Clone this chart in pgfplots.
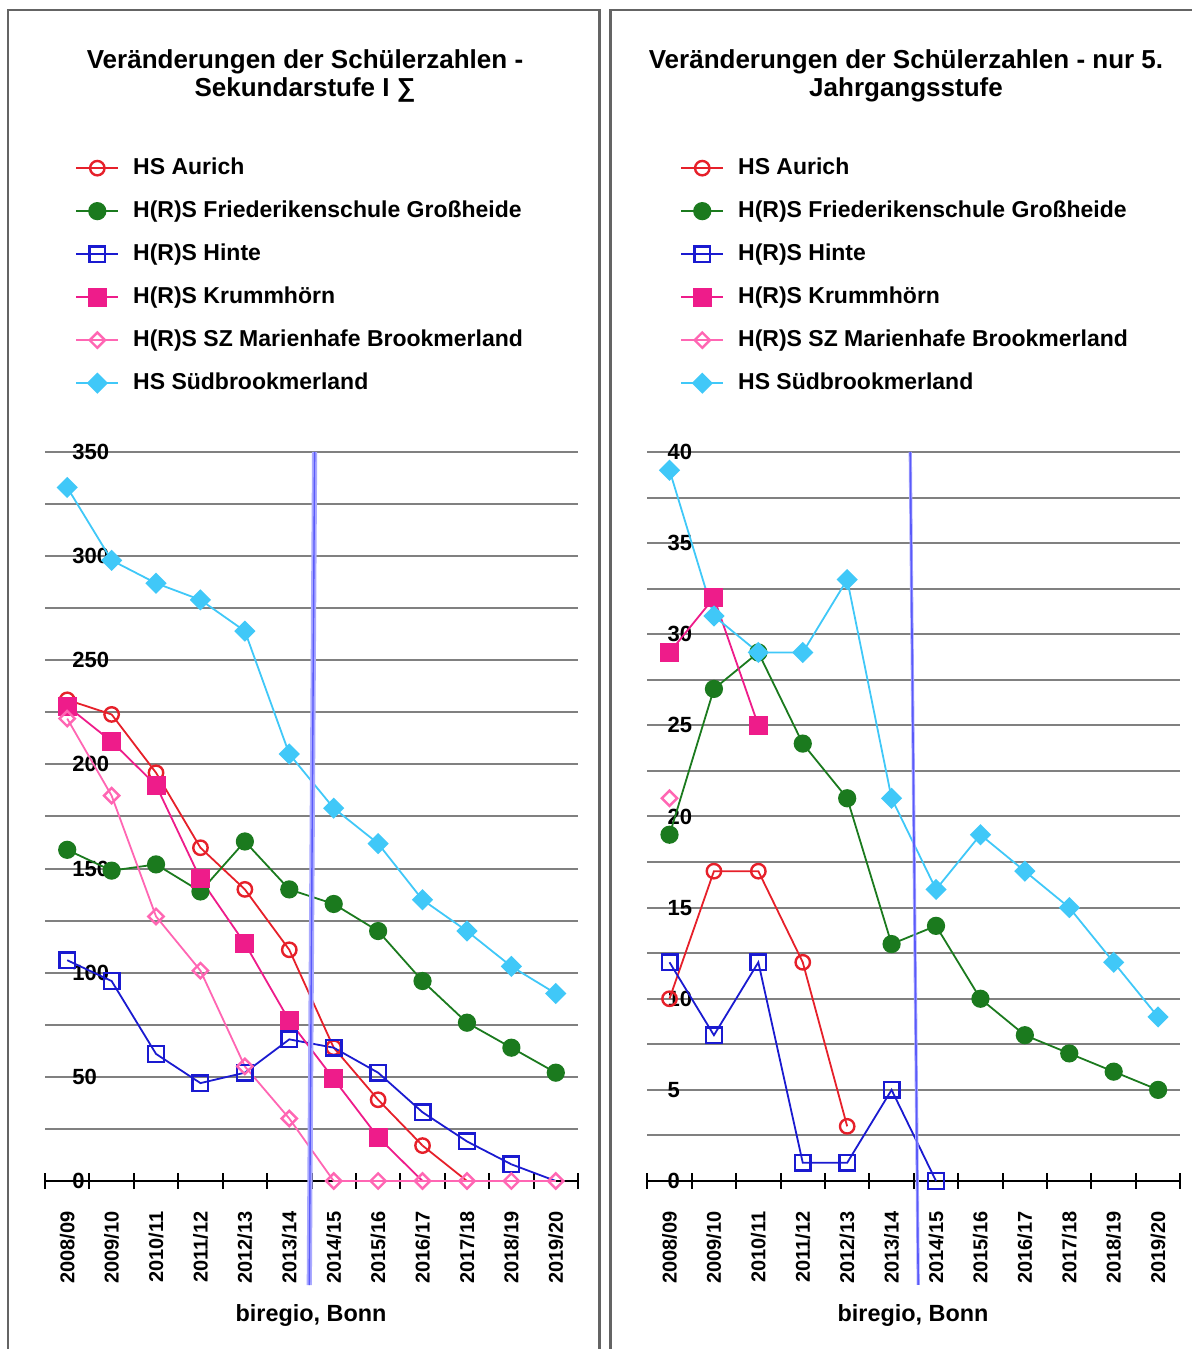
\documentclass[border=0pt]{standalone}
\usepackage{fontspec}
\setmainfont{Liberation Sans}
\usepackage{pgfplots}
\pgfplotsset{compat=1.18}

\definecolor{aurich}{RGB}{230,32,42}
\definecolor{gross}{RGB}{27,122,30}
\definecolor{hinte}{RGB}{26,26,208}
\definecolor{krumm}{RGB}{238,28,138}
\definecolor{marien}{RGB}{255,102,179}
\definecolor{sued}{RGB}{64,200,248}
\definecolor{framec}{RGB}{100,100,100}
\definecolor{gridc}{RGB}{128,128,128}
\definecolor{vlight}{RGB}{170,170,255}
\definecolor{vdark}{RGB}{90,90,250}

\pgfplotsset{
  panel/.style={
    scale only axis,
    width=266.5pt, height=364.5pt,
    anchor=south west,
    clip=false,
    xmin=-0.5, xmax=11.5,
    axis x line=bottom,
    axis y line=left,
    x axis line style={-, black, line width=1pt},
    y axis line style={draw=none},
    xtick={0,...,11},
    xticklabels={2008/09,2009/10,2010/11,2011/12,2012/13,2013/14,2014/15,2015/16,2016/17,2017/18,2018/19,2019/20},
    minor xtick={-0.5,0.5,...,11.5},
    major tick length=0pt,
    minor tick length=8pt,
    tick align=center,
    xtick style={black, line width=1pt},
    ytick style={draw=none},
    xticklabel style={rotate=90, anchor=east, inner sep=0pt, font=\bfseries\fontsize{10}{10}\selectfont},
    xticklabel shift=15pt,
    yticklabel style={anchor=west, inner sep=0pt, font=\bfseries\fontsize{11}{11}\selectfont},
    ymajorgrids,
    grid style={gridc, line width=1pt},
    legend cell align=left,
    legend style={anchor=north west, draw=none, fill=none, inner sep=0pt,
      row sep=10.5pt, column sep=7pt,
      font=\bfseries\fontsize{11.5}{11.5}\selectfont,
      nodes={inner sep=0pt, text height=8.5pt, text depth=2.5pt}},
    legend image code/.code={\draw[mark repeat=2,mark phase=2,#1] plot coordinates {(0pt,0pt) (10.5pt,0pt) (21pt,0pt)};},
  },
  saurich/.style={aurich, line width=0.9pt, mark=o, mark size=3.6pt, mark options={fill=white, line width=1.2pt}},
  sgross/.style={gross, line width=0.9pt, mark=*, mark size=4.1pt},
  shinte/.style={hinte, line width=0.9pt, mark=square, mark size=3.9pt, mark options={fill=white, line width=1.2pt}},
  skrumm/.style={krumm, line width=0.9pt, mark=square*, mark size=4.3pt},
  smarien/.style={marien, line width=0.9pt, mark=square, mark size=2.7pt, mark options={rotate=45, fill=white, line width=1.2pt}},
  ssued/.style={sued, line width=0.9pt, mark=square*, mark size=3.3pt, mark options={rotate=45}},
}

\begin{document}
\begin{tikzpicture}
\useasboundingbox (0,0) rectangle (596pt,674.5pt);
\draw[framec, line width=1.2pt] (4pt,-1pt) -- (4pt,669.5pt) -- (299.7pt,669.5pt) -- (299.7pt,-1pt);
\draw[framec, line width=1.2pt] (305.3pt,-1pt) -- (305.3pt,669.5pt) -- (597pt,669.5pt);

\node[align=center, font=\bfseries\fontsize{13}{14}\selectfont] at (152.5pt,636.5pt)
  {Veränderungen der Schülerzahlen -\\Sekundarstufe I ∑};
\node[align=center, font=\bfseries\fontsize{13}{14}\selectfont] at (453pt,636.5pt)
  {Veränderungen der Schülerzahlen - nur 5.\\Jahrgangsstufe};
\node[font=\bfseries\fontsize{11.7}{12}\selectfont] at (155.5pt,16.5pt) {biregio, Bonn};
\node[font=\bfseries\fontsize{11.7}{12}\selectfont] at (456.5pt,16.5pt) {biregio, Bonn};

% Sekundarstufe I gesamt
\begin{axis}[panel,
  at={(22.5pt,84pt)},
  ymin=0, ymax=350,
  ytick={0,25,...,350},
  yticklabels={0,,50,,100,,150,,200,,250,,300,,350},
  yticklabel shift=-13.5pt,
  legend style={at={(axis description cs:0.0563,1.405)}},
]
\addplot[saurich] coordinates {(0,231) (1,224) (2,196) (3,160) (4,140) (5,111) (6,64) (7,39) (8,17)};
\addplot[aurich, line width=0.9pt, forget plot] coordinates {(8,17) (9,0) (10,0) (11,0)};
\addplot[sgross] coordinates {(0,159) (1,149) (2,152) (3,139) (4,163) (5,140) (6,133) (7,120) (8,96) (9,76) (10,64) (11,52)};
\addplot[shinte] coordinates {(0,106) (1,96) (2,61) (3,47) (4,52) (5,68) (6,64) (7,52) (8,33) (9,19) (10,8)};
\addplot[hinte, line width=0.9pt, forget plot] coordinates {(10,8) (11,0)};
\addplot[skrumm] coordinates {(0,228) (1,211) (2,190) (3,145) (4,114) (5,77) (6,49) (7,21)};
\addplot[krumm, line width=0.9pt, forget plot] coordinates {(7,21) (8,0)};
\addplot[smarien] coordinates {(0,222) (1,185) (2,127) (3,101) (4,55) (5,30) (6,0) (7,0) (8,0) (9,0) (10,0) (11,0)};
\addplot[ssued] coordinates {(0,333) (1,298) (2,287) (3,279) (4,264) (5,205) (6,179) (7,162) (8,135) (9,120) (10,103) (11,90)};
\legend{HS Aurich, H(R)S Friederikenschule Großheide, H(R)S Hinte, H(R)S Krummhörn, H(R)S SZ Marienhafe Brookmerland, HS Südbrookmerland}
\draw[vlight, line width=2.6pt] (axis cs:5.57,350) -- (axis cs:5.45,-50);
\draw[vdark, line width=0.7pt] (axis cs:5.57,350) -- (axis cs:5.45,-50);
\end{axis}

% nur 5. Jahrgangsstufe
\begin{axis}[panel,
  at={(323.65pt,84pt)},
  ymin=0, ymax=40,
  ytick={0,2.5,...,40},
  yticklabels={0,,5,,10,,15,,20,,25,,30,,35,,40},
  yticklabel shift=-10pt,
  legend style={at={(axis description cs:0.0613,1.405)}},
]
\addplot[saurich] coordinates {(0,10) (1,17) (2,17) (3,12) (4,3)};
\addplot[sgross] coordinates {(0,19) (1,27) (2,29) (3,24) (4,21) (5,13) (6,14) (7,10) (8,8) (9,7) (10,6) (11,5)};
\addplot[shinte] coordinates {(0,12) (1,8) (2,12) (3,1) (4,1) (5,5) (6,0)};
\addplot[skrumm] coordinates {(0,29) (1,32) (2,25)};
\addplot[smarien] coordinates {(0,21)};
\addplot[ssued] coordinates {(0,39) (1,31) (2,29) (3,29) (4,33) (5,21) (6,16) (7,19) (8,17) (9,15) (10,12) (11,9)};
\legend{HS Aurich, H(R)S Friederikenschule Großheide, H(R)S Hinte, H(R)S Krummhörn, H(R)S SZ Marienhafe Brookmerland, HS Südbrookmerland}
\draw[vlight, line width=1.6pt] (axis cs:5.42,40) -- (axis cs:5.6,-5.7);
\draw[vdark, line width=0.8pt] (axis cs:5.42,40) -- (axis cs:5.6,-5.7);
\end{axis}
\end{tikzpicture}
\end{document}
